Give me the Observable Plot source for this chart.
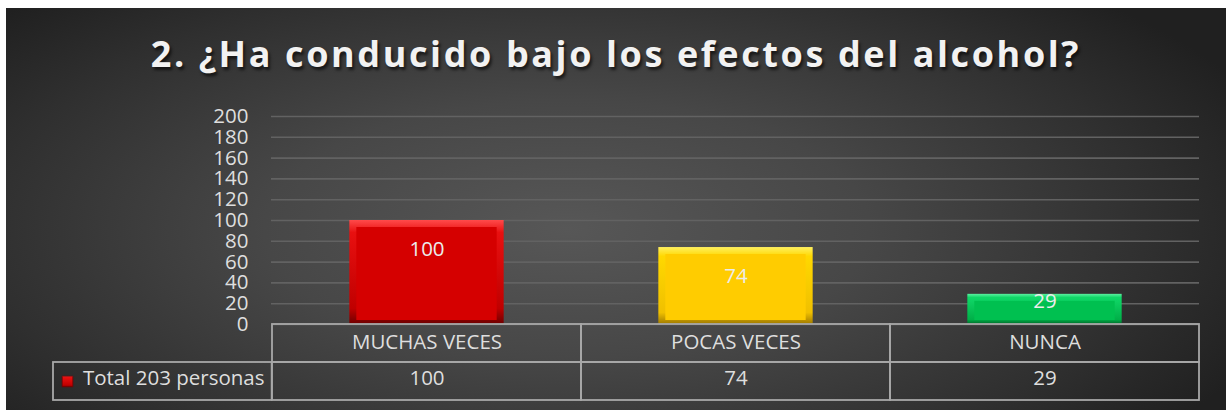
<!DOCTYPE html>
<html><head><meta charset="utf-8">
<script src="https://cdn.jsdelivr.net/npm/d3@7"></script>
<script src="https://cdn.jsdelivr.net/npm/@observablehq/plot@0.6"></script>
<style>
html,body{margin:0;padding:0;background:#fff;}
#chart{position:absolute;left:6px;top:8px;width:1220px;height:402px;overflow:hidden;
background: radial-gradient(ellipse 62% 80% at 46% 55%, #575757 0%, #474747 40%, #2f2f2f 78%, #202020 100%);
font-family:"Open Sans",sans-serif;}
#title{height:92px;box-sizing:border-box;padding-top:28px;line-height:36px;text-align:center;font-weight:700;font-size:36px;color:#f2f2f2;letter-spacing:2.6px;text-shadow:2px 3px 3px rgba(0,0,0,.6);white-space:nowrap;}
svg{display:block;}
</style></head><body>
<div id="chart"><div id="title">2. ¿Ha conducido bajo los efectos del alcohol?</div></div>
<script>
const categories = ["MUCHAS VECES", "POCAS VECES", "NUNCA"];
const values = [100, 74, 29];
const seriesName = "Total 203 personas";
const yTicks = [0, 20, 40, 60, 80, 100, 120, 140, 160, 180, 200];

const palette = ["#d50000", "#ffcc00", "#00c050"];
const bevel = [
  ["#ff4a4a", "#e81010", "#c00000", "#6e0000"],
  ["#fff060", "#ffd800", "#f0c000", "#a07a00"],
  ["#5cf0a0", "#10d868", "#00b048", "#006a2a"]
];

const data = categories.map((c, i) => ({cat: c, value: values[i]}));

const width = 1220, height = 310;
const marginLeft = 265, marginRight = 27, marginTop = 16, marginBottom = 86;
const band = (width - marginLeft - marginRight) / categories.length;
const barInset = band / 4;
const rowH = 38;
const lineColor = "#a8a8a8";
const textColor = "#dedede";
const fs = 20.5;

const marks = [
  Plot.gridY(yTicks, {stroke: "#626262", strokeOpacity: 1, strokeWidth: 1.6}),
  Plot.axisY(yTicks, {tickSize: 0, tickPadding: 23, fontSize: fs, fill: textColor, label: null}),
  ...categories.map((c, i) => Plot.barY(data.filter(d => d.cat === c), {
    x: "cat", y: "value", fill: `url(#bev${i})`,
    insetLeft: barInset, insetRight: barInset
  })),
  Plot.barY(data, {
    x: "cat", y: "value", fill: "cat",
    insetLeft: barInset + 7, insetRight: barInset + 7, insetTop: 7, insetBottom: 4
  }),
  Plot.text(data, {
    x: "cat", y: d => (d.value >= 40 ? d.value - 28 : d.value * 0.75),
    text: d => String(d.value), fill: "#ececec", fontSize: fs
  }),
  // data table
  Plot.barY(data, {x: "cat", y1: 0, y2: 0, insetTop: 0, insetBottom: -rowH,
    fill: "none", stroke: lineColor, strokeWidth: 1.8}),
  Plot.barY(data, {x: "cat", y1: 0, y2: 0, insetTop: rowH, insetBottom: -2 * rowH,
    fill: "none", stroke: lineColor, strokeWidth: 1.8}),
  Plot.barY(data.slice(0, 1), {x: "cat", y1: 0, y2: 0, insetTop: rowH, insetBottom: -2 * rowH,
    insetLeft: -219, insetRight: band, fill: "none", stroke: lineColor, strokeWidth: 1.8}),
  Plot.text(data, {x: "cat", text: "cat", frameAnchor: "bottom", dy: 24, fontSize: fs, fill: textColor}),
  Plot.text(data, {x: "cat", text: d => String(d.value), frameAnchor: "bottom", dy: 60, fontSize: fs, fill: textColor}),
  Plot.text([seriesName], {text: d => d, frameAnchor: "bottom-left", textAnchor: "end", dx: -7, dy: 60, fontSize: fs, fill: textColor}),
  Plot.dot([seriesName], {frameAnchor: "bottom-left", dx: -204, dy: 57, symbol: "square", r: 6, fill: "url(#bev0)", stroke: "#7a0000", strokeWidth: 0.8})
];

const plot = Plot.plot({
  width, height, marginLeft, marginRight, marginTop, marginBottom,
  style: {background: "transparent", color: textColor, fontFamily: "'Open Sans', sans-serif", fontSize: "20px", overflow: "visible"},
  x: {domain: categories, padding: 0, axis: null},
  y: {domain: [0, 200], axis: null},
  color: {domain: categories, range: palette},
  marks
});

const defs = d3.select(plot).insert("defs", ":first-child");
bevel.forEach((stops, i) => {
  const g = defs.append("linearGradient").attr("id", `bev${i}`).attr("x1", 0).attr("y1", 0).attr("x2", 0).attr("y2", 1);
  [[0, stops[0]], [0.12, stops[1]], [0.85, stops[2]], [1, stops[3]]].forEach(([o, c]) =>
    g.append("stop").attr("offset", o).attr("stop-color", c));
});

document.getElementById("chart").appendChild(plot);
</script>
</body></html>
